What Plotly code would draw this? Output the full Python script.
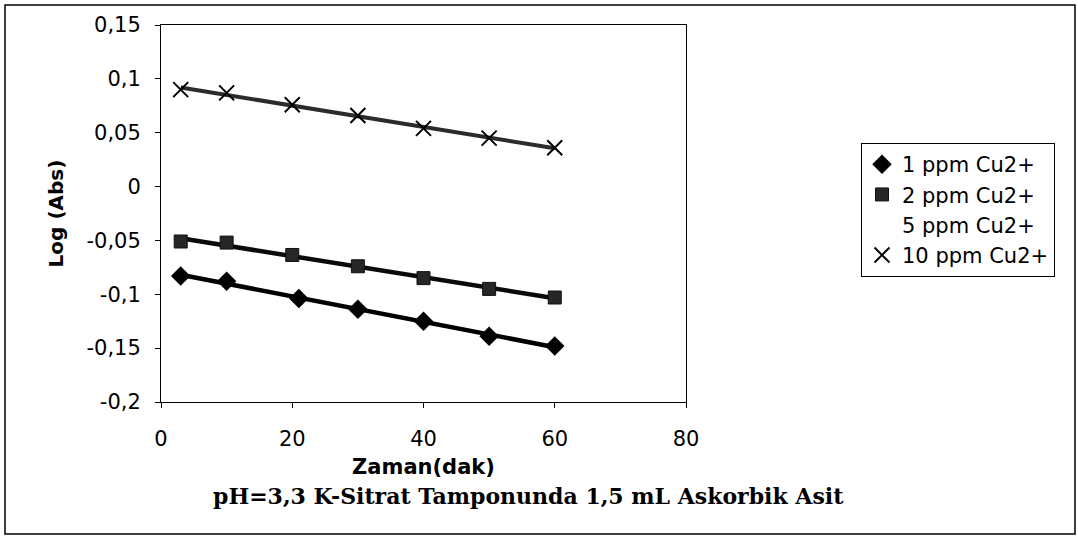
import numpy as np
import plotly.graph_objects as go

# ---- data ----
time_1ppm = [3, 10, 21, 30, 40, 50, 60]
logabs_1ppm = [-0.083, -0.088, -0.104, -0.114, -0.125, -0.139, -0.148]

time_2ppm = [3, 10, 20, 30, 40, 50, 60]
logabs_2ppm = [-0.051, -0.052, -0.0635, -0.074, -0.085, -0.095, -0.103]

time_5ppm = [None]
logabs_5ppm = [None]

time_10ppm = [3, 10, 20, 30, 40, 50, 60]
logabs_10ppm = [0.090, 0.087, 0.076, 0.066, 0.054, 0.045, 0.036]

series_names = ["1 ppm Cu2+", "2 ppm Cu2+", "5 ppm Cu2+", "10 ppm Cu2+"]

x_ticks = [0, 20, 40, 60, 80]
x_ticktext = ["0", "20", "40", "60", "80"]
y_ticks = [0.15, 0.1, 0.05, 0, -0.05, -0.1, -0.15, -0.2]
y_ticktext = ["0,15", "0,1", "0,05", "0", "-0,05", "-0,1", "-0,15", "-0,2"]

x_title = "Zaman(dak)"
y_title = "Log (Abs)"
bottom_title = "pH=3,3 K-Sitrat Tamponunda 1,5 mL Askorbik Asit"

# ---- figure ----
W, H = 1078, 537
L, R, T, B = 161, 1078 - 686, 25, 537 - 402
PW, PH = W - L - R, H - T - B

def px_x(p):
    return (p - L) / PW

def px_y(p):
    return (H - B - p) / PH

fig = go.Figure()

def add_fit(xs, ys, color, width):
    if len(xs) < 2:
        return
    k, b = np.polyfit(xs, ys, 1)
    xf = np.array([min(xs), max(xs)])
    fig.add_trace(go.Scatter(x=xf, y=k * xf + b, mode="lines",
                             line=dict(color=color, width=width),
                             showlegend=False, hoverinfo="skip"))

add_fit(time_1ppm, logabs_1ppm, "#000000", 4.5)
add_fit(time_2ppm, logabs_2ppm, "#0a0a0a", 4.5)
add_fit(time_10ppm, logabs_10ppm, "#2b2b2b", 4)

fig.add_trace(go.Scatter(x=time_1ppm, y=logabs_1ppm, mode="markers", name=series_names[0],
                         marker=dict(symbol="diamond", size=15, color="#000000")))
fig.add_trace(go.Scatter(x=time_2ppm, y=logabs_2ppm, mode="markers", name=series_names[1],
                         marker=dict(symbol="square", size=13, color="#262626",
                                     line=dict(color="#111111", width=1))))
fig.add_trace(go.Scatter(x=time_5ppm, y=logabs_5ppm, mode="markers", name=series_names[2],
                         marker=dict(symbol="circle", size=10, color="rgba(0,0,0,0)")))
fig.add_trace(go.Scatter(x=time_10ppm, y=logabs_10ppm, mode="markers", name=series_names[3],
                         marker=dict(symbol="x-thin", size=15, color="#000000",
                                     line=dict(color="#000000", width=2))))

font_main = "DejaVu Sans, Arial, sans-serif"

fig.update_layout(
    width=W, height=H,
    margin=dict(l=L, r=R, t=T, b=B, pad=0),
    paper_bgcolor="white", plot_bgcolor="white",
    font=dict(family=font_main, size=21, color="black"),
    showlegend=True,
    legend=dict(x=px_x(861), y=px_y(143), xanchor="left", yanchor="top",
                bordercolor="black", borderwidth=1, bgcolor="white",
                font=dict(family=font_main, size=21, color="black"),
                itemwidth=30, tracegroupgap=0),
    xaxis=dict(range=[0, 80], tickvals=x_ticks, ticktext=x_ticktext,
               showgrid=False, zeroline=False, showline=True, linecolor="black",
               linewidth=1, mirror=True, ticks="outside", ticklen=5, tickcolor="black",
               ticklabelstandoff=13,
               title=dict(text=f"<b>{x_title}</b>", standoff=9,
                          font=dict(family=font_main, size=21))),
    yaxis=dict(range=[-0.2, 0.15], tickvals=y_ticks, ticktext=y_ticktext,
               showgrid=False, zeroline=False, showline=True, linecolor="black",
               linewidth=1, mirror=True, ticks="outside", ticklen=5, tickcolor="black",
               ticklabelstandoff=10,
               title=dict(text=f"<b>{y_title}</b>", standoff=17,
                          font=dict(family=font_main, size=20))),
    shapes=[dict(type="rect", xref="paper", yref="paper",
                 x0=px_x(5), x1=px_x(1075), y0=px_y(534), y1=px_y(5),
                 line=dict(color="black", width=1.5), fillcolor="rgba(0,0,0,0)",
                 layer="below")],
    annotations=[dict(text=f"<b>{bottom_title}</b>", xref="paper", yref="paper",
                      x=px_x(528), y=px_y(496), xanchor="center", yanchor="middle",
                      showarrow=False,
                      font=dict(family="DejaVu Serif, Liberation Serif, serif", size=22,
                                color="black"))],
)

fig.write_html("out.html", config={"displayModeBar": False},
               post_script="document.body.style.margin='0';")
